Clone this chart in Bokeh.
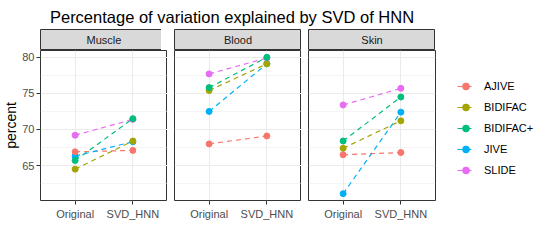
from bokeh.plotting import figure
from bokeh.models import Range1d, FixedTicker, Legend, LegendItem, Label, ColumnDataSource
from bokeh.layouts import row, column
from bokeh.embed import file_html
from bokeh.resources import INLINE

# ---------------- data ----------------
title_text = "Percentage of variation explained by SVD of HNN"
y_label = "percent"
tissues = ["Muscle", "Blood", "Skin"]
conditions = ["Original", "SVD_HNN"]
methods = ["AJIVE", "BIDIFAC", "BIDIFAC+", "JIVE", "SLIDE"]
colors = ["#F8766D", "#A3A500", "#00BF7D", "#00B0F6", "#E76BF3"]
y_ticks = [65, 70, 75, 80]
y_minor = [62.5, 67.5, 72.5, 77.5]

#                  AJIVE BIDIFAC BIDIFAC+ JIVE SLIDE
muscle_original = [66.9, 64.5, 65.7, 66.3, 69.2]
muscle_svd_hnn  = [67.1, 68.4, 71.5, 68.3, 71.4]
blood_original  = [68.0, 75.4, 75.8, 72.5, 77.7]
blood_svd_hnn   = [69.1, 79.1, 80.0, 79.1, 79.9]
skin_original   = [66.5, 67.4, 68.4, 61.1, 73.4]
skin_svd_hnn    = [66.8, 71.2, 74.5, 72.4, 75.7]

# order in which the points are painted (last on top)
point_order = ["JIVE", "SLIDE", "AJIVE", "BIDIFAC", "BIDIFAC+"]

values = {
    "Muscle": (muscle_original, muscle_svd_hnn),
    "Blood": (blood_original, blood_svd_hnn),
    "Skin": (skin_original, skin_svd_hnn),
}

# ---------------- style ----------------
FONT = "Liberation Sans"
FRAME_W = 127
FRAME_H = 150
GAP = 7
LEFT = 34
STRIP_H = 21
TITLE_H = 29
TITLE_BASE = 16  # px from top of title band to baseline

all_vals = [v for t in tissues for arr in values[t] for v in arr]
lo, hi = min(all_vals), max(all_vals)
pad = 0.05 * (hi - lo)
y_range = Range1d(lo - pad, hi + pad)
xs = [conditions.index(c) + 1 for c in conditions]
x_range_pad = 0.6


def style_axes(p, show_y):
    p.xaxis.ticker = FixedTicker(ticks=xs)
    p.xaxis.major_label_overrides = {x: c for x, c in zip(xs, conditions)}
    p.xgrid.ticker = FixedTicker(ticks=xs)
    for ax in p.axis:
        ax.axis_line_color = None
        ax.major_tick_line_color = "#333333"
        ax.major_tick_out = 4
        ax.major_tick_in = 0
        ax.minor_tick_line_color = None
        ax.major_label_text_color = "#4D4D4D"
        ax.major_label_text_font = FONT
        ax.major_label_text_font_size = "11px"
    p.xaxis.major_label_standoff = 3
    p.ygrid.ticker = FixedTicker(ticks=y_ticks, minor_ticks=y_minor)
    if show_y:
        p.yaxis.ticker = FixedTicker(ticks=y_ticks, minor_ticks=y_minor)
        p.yaxis.major_label_standoff = 2
        p.yaxis.axis_label = y_label
        p.yaxis.axis_label_text_font = FONT
        p.yaxis.axis_label_text_font_size = "14px"
        p.yaxis.axis_label_text_font_style = "normal"
        p.yaxis.axis_label_text_color = "black"
        p.yaxis.axis_label_standoff = 0
    p.grid.grid_line_color = "#EBEBEB"
    p.grid.grid_line_width = 1
    p.ygrid.minor_grid_line_color = "#EBEBEB"
    p.ygrid.minor_grid_line_width = 0.5


def make_panel(tissue, border_left, show_y):
    orig, svd = values[tissue]
    p = figure(frame_width=FRAME_W, frame_height=FRAME_H,
               x_range=Range1d(xs[0] - x_range_pad, xs[-1] + x_range_pad),
               y_range=y_range,
               min_border_left=border_left, min_border_right=0,
               min_border_top=0, min_border_bottom=30,
               y_axis_location="left" if show_y else None,
               output_backend="svg", toolbar_location=None,
               outline_line_color="#333333", outline_line_width=1,
               background_fill_color="white", border_fill_color="white")
    style_axes(p, show_y)
    line_r, pt_r = {}, {}
    sources = {}
    for i, m in enumerate(methods):
        sources[m] = ColumnDataSource(dict(x=xs, y=[orig[i], svd[i]]))
        line_r[m] = p.line("x", "y", source=sources[m], line_color=colors[i],
                           line_width=1.2, line_dash="5 4")
    for m in point_order:
        i = methods.index(m)
        pt_r[m] = p.scatter("x", "y", source=sources[m], size=6,
                            fill_color=colors[i], line_color=colors[i])
    return p, line_r, pt_r


def make_strip(tissue, border_left):
    s = figure(frame_width=FRAME_W, frame_height=STRIP_H,
               x_range=Range1d(0, 1), y_range=Range1d(0, 1),
               min_border_left=border_left, min_border_right=0,
               min_border_top=0, min_border_bottom=0,
               x_axis_location=None, y_axis_location=None,
               output_backend="svg", toolbar_location=None,
               background_fill_color="#D9D9D9", border_fill_color="white",
               outline_line_color="#333333", outline_line_width=1)
    s.grid.visible = False
    s.add_layout(Label(x=0.5, y=0.5, text=tissue, text_align="center",
                       text_baseline="middle", text_font=FONT,
                       text_font_size="11px", text_color="#1A1A1A"))
    return s


cols = []
for k, t in enumerate(tissues):
    bl = LEFT if k == 0 else GAP
    p, line_r, pt_r = make_panel(t, bl, k == 0)
    s = make_strip(t, bl)
    if k == len(tissues) - 1:
        items = [LegendItem(label=m, renderers=[line_r[m], pt_r[m]]) for m in methods]
        legend = Legend(items=items, location=(22, 21), orientation="vertical",
                        border_line_color=None, background_fill_alpha=0,
                        padding=0, margin=0, spacing=3,
                        glyph_width=17, glyph_height=18, label_height=18,
                        label_standoff=10, label_text_font=FONT,
                        label_text_font_size="11px", label_text_color="black")
        p.add_layout(legend, "right")
    cols.append(column(s, p))

# title band: centred over the three panels
tf = figure(frame_width=3 * FRAME_W + 2 * GAP, frame_height=TITLE_H,
            x_range=Range1d(0, 1), y_range=Range1d(0, TITLE_H),
            min_border_left=LEFT, min_border_right=0, min_border_top=0, min_border_bottom=0,
            x_axis_location=None, y_axis_location=None,
            output_backend="svg", toolbar_location=None,
            outline_line_color=None, background_fill_color="white",
            border_fill_color="white")
tf.grid.visible = False
tf.add_layout(Label(x=0.5, y=TITLE_H - TITLE_BASE, text=title_text,
                    text_align="center", text_baseline="alphabetic",
                    text_font=FONT, text_font_size="16.5px",
                    text_font_style="normal", text_color="black"))

layout = column(tf, row(*cols))
open("out.html", "w").write(file_html(layout, INLINE))
